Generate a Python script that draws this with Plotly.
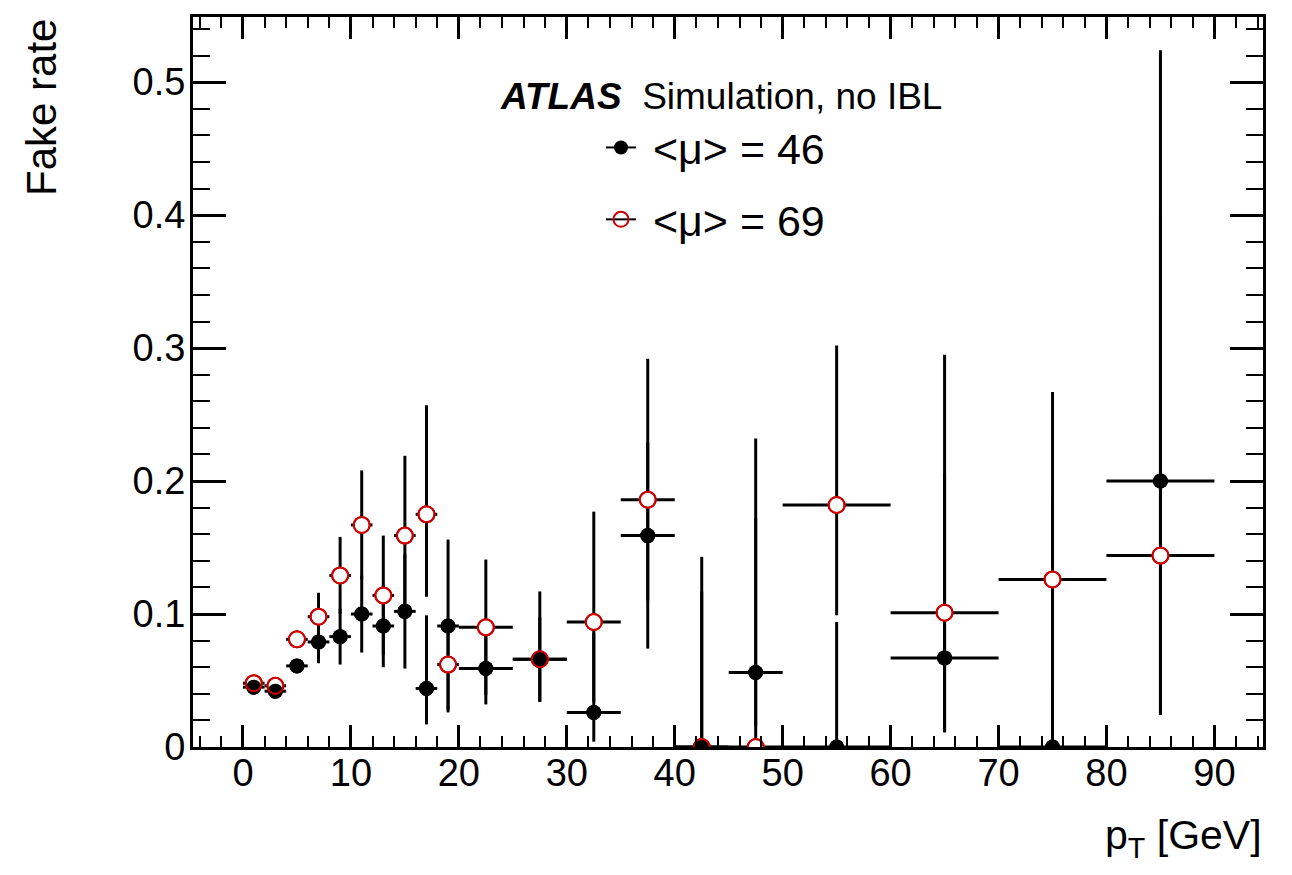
import plotly.graph_objects as go

# ---- data ----
pt_centers = [1, 3, 5, 7, 9, 11, 13, 15, 17, 19, 22.5, 27.5, 32.5, 37.5, 42.5, 47.5, 55, 65, 75, 85]
pt_halfwidth = [1, 1, 1, 1, 1, 1, 1, 1, 1, 1, 2.5, 2.5, 2.5, 2.5, 2.5, 2.5, 5, 5, 5, 5]

mu46_rate = [0.045, 0.042, 0.061, 0.079, 0.083, 0.100, 0.091, 0.102, 0.044, 0.091,
             0.059, 0.066, 0.026, 0.159, 0.000, 0.056, 0.000, 0.067, 0.000, 0.200]
mu46_err_up = [0.003, 0.003, 0.005, 0.017, 0.021, 0.029, 0.031, 0.043, 0.055, 0.065,
               0.027, 0.032, 0.060, 0.070, 0.143, 0.176, 0.094, 0.139, 0.186, 0.324]
mu46_err_dn = [0.003, 0.003, 0.005, 0.016, 0.021, 0.029, 0.031, 0.043, 0.027, 0.065,
               0.027, 0.032, 0.022, 0.085, 0.000, 0.040, 0.000, 0.056, 0.000, 0.176]

mu69_rate = [0.048, 0.046, 0.081, 0.098, 0.129, 0.167, 0.114, 0.159, 0.175, 0.062,
             0.090, 0.066, 0.094, 0.186, 0.000, 0.000, 0.182, 0.101, 0.126, 0.144]
mu69_err_up = [0.003, 0.003, 0.006, 0.018, 0.029, 0.041, 0.045, 0.060, 0.082, 0.034,
               0.051, 0.051, 0.083, 0.106, 0.117, 0.172, 0.120, 0.194, 0.141, 0.256]
mu69_err_dn = [0.003, 0.003, 0.006, 0.015, 0.029, 0.041, 0.045, 0.060, 0.062, 0.034,
               0.051, 0.032, 0.060, 0.076, 0.000, 0.000, 0.083, 0.090, 0.081, 0.120]

x_ticks = [0, 10, 20, 30, 40, 50, 60, 70, 80, 90]
y_ticks = [0, 0.1, 0.2, 0.3, 0.4, 0.5]
y_tick_text = ["0", "0.1", "0.2", "0.3", "0.4", "0.5"]
label_46 = "<μ> = 46"
label_69 = "<μ> = 69"

FONT = "Liberation Sans, Arial, Helvetica, sans-serif"
RED = "#cc0000"

fig = go.Figure()

# black series with error bars
fig.add_trace(go.Scatter(
    x=pt_centers, y=mu46_rate, mode="markers", showlegend=False,
    marker=dict(color="black", size=15, symbol="circle"),
    error_x=dict(type="data", array=pt_halfwidth, color="black", thickness=3, width=0),
    error_y=dict(type="data", symmetric=False, array=mu46_err_up, arrayminus=mu46_err_dn,
                 color="black", thickness=3, width=0),
))
# red series error bars (black lines) with white-filled marker hiding bars inside the circle
fig.add_trace(go.Scatter(
    x=pt_centers, y=mu69_rate, mode="markers", showlegend=False,
    marker=dict(color="white", size=16, symbol="circle", line=dict(color=RED, width=2)),
    error_x=dict(type="data", array=pt_halfwidth, color="black", thickness=3, width=0),
    error_y=dict(type="data", symmetric=False, array=mu69_err_up, arrayminus=mu69_err_dn,
                 color="black", thickness=3, width=0),
))
# black markers on top
fig.add_trace(go.Scatter(
    x=pt_centers, y=mu46_rate, mode="markers", showlegend=False,
    marker=dict(color="black", size=15, symbol="circle"),
))
# red open circles on top
fig.add_trace(go.Scatter(
    x=pt_centers, y=mu69_rate, mode="markers", showlegend=False,
    marker=dict(color=RED, size=16, symbol="circle-open", line=dict(color=RED, width=2)),
))

# legend entries
fig.add_trace(go.Scatter(
    x=[None], y=[None], mode="lines+markers", name="\u00a0" + label_46, legendgroup="a",
    line=dict(color="black", width=2),
    marker=dict(color="black", size=14, symbol="circle"),
))
fig.add_trace(go.Scatter(
    x=[None], y=[None], mode="lines+markers", name="\u00a0" + label_69, legendgroup="b",
    line=dict(color="black", width=2),
    marker=dict(color=RED, size=15, symbol="circle-open", line=dict(color=RED, width=2)),
))

L, R, T, B = 193, 29, 17, 128
W, H = 1292, 875
pw, ph = W - L - R, H - T - B

def px(xp):
    return (xp - L) / pw

def py(yp):
    return (H - B - yp) / ph

axis_common = dict(
    showline=True, linewidth=3, linecolor="black", mirror="ticks",
    ticks="inside", tickwidth=3, tickcolor="black",
    showgrid=False, zeroline=False,
    tickfont=dict(family=FONT, size=38, color="black"),
)

fig.update_xaxes(
    range=[-4.63, 94.5], tickvals=x_ticks, ticklen=22, ticklabelstandoff=-10,
    minor=dict(ticks="inside", dtick=2, tick0=0, ticklen=11, tickwidth=2, tickcolor="black"),
    **axis_common,
)
fig.update_yaxes(
    range=[0, 0.549], tickvals=y_ticks, ticktext=y_tick_text,
    ticklen=33, ticklabelstandoff=-3,
    minor=dict(ticks="inside", dtick=0.02, tick0=0, ticklen=17, tickwidth=2, tickcolor="black"),
    **axis_common,
)

fig.update_layout(
    width=W, height=H,
    margin=dict(l=L, r=R, t=T, b=B, autoexpand=False),
    paper_bgcolor="white", plot_bgcolor="white",
    font=dict(family=FONT, color="black"),
    legend=dict(
        x=px(601), y=py(113), xanchor="left", yanchor="top",
        bgcolor="rgba(0,0,0,0)", font=dict(family=FONT, size=43, color="black"),
        tracegroupgap=13,
    ),
    annotations=[
        dict(text="Fake rate", xref="paper", yref="paper", x=px(42), y=py(108),
             xanchor="center", yanchor="middle", textangle=-90, showarrow=False,
             font=dict(family=FONT, size=42, color="black")),
        dict(text="p<sub>T</sub> [GeV]", xref="paper", yref="paper", x=px(1264), y=py(838),
             xanchor="right", yanchor="middle", showarrow=False,
             font=dict(family=FONT, size=41, color="black")),
        dict(text="<b><i>ATLAS</i></b>  Simulation, no IBL", xref="paper", yref="paper",
             x=px(498), y=py(96), xanchor="left", yanchor="middle", showarrow=False,
             font=dict(family=FONT, size=37, color="black")),
    ],
)

fig.write_html("out.html")
